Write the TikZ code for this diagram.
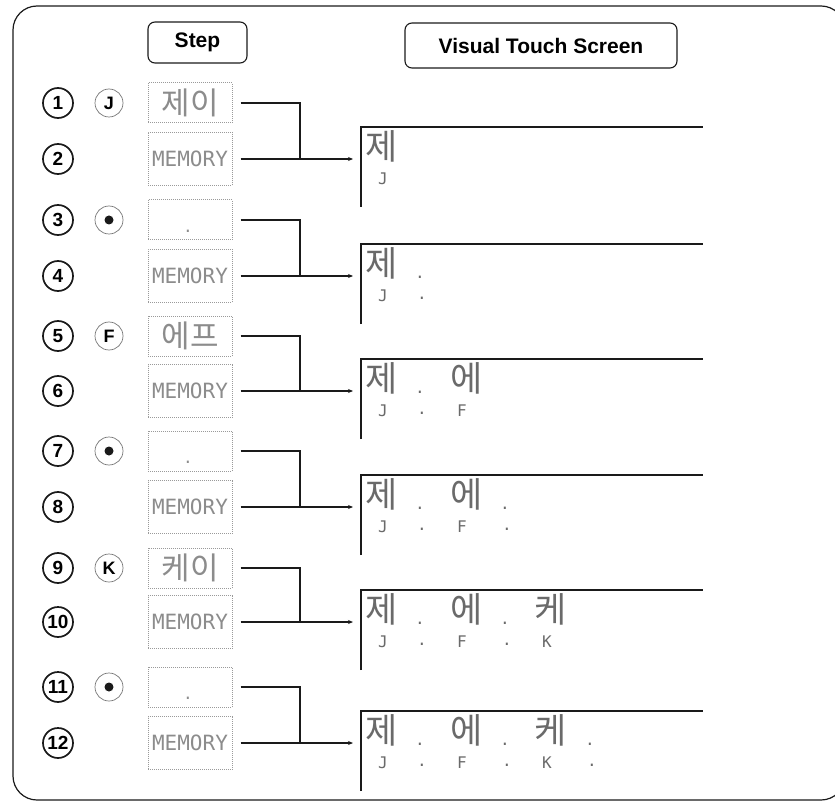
\documentclass[tikz,border=0pt]{standalone}
\usepackage{fontspec}
\setmainfont{Liberation Sans}
\newfontfamily\glyphfont{Noto Sans CJK KR}
\newfontfamily\lcdfont{DejaVu Sans Mono}
\usetikzlibrary{arrows.meta,positioning,calc}
\definecolor{ink}{HTML}{1A1A1A}
\definecolor{lcd}{HTML}{8C8C8C}
\definecolor{lcdbox}{HTML}{9A9A9A}

\begin{document}
\begin{tikzpicture}[
  x=1pt, y=-1pt,
  >={Stealth[length=5pt,width=4pt]},
  hdr/.style={draw=ink, rounded corners=7pt, line width=1.1pt, font=\bfseries\fontsize{21}{21}\selectfont},
  num/.style={circle, draw=ink, line width=1.7pt, minimum size=30pt, inner sep=0pt, font=\bfseries\fontsize{19}{19}\selectfont},
  key/.style={circle, draw=ink!60, line width=0.7pt, minimum size=28pt, inner sep=0pt, font=\bfseries\fontsize{18}{18}\selectfont},
  stepbox/.style={draw=lcdbox, densely dotted, line width=1pt, minimum width=84pt, minimum height=40pt, inner sep=0pt, text=lcd, font=\glyphfont\fontsize{31}{31}\selectfont},
  membox/.style={stepbox, minimum height=53pt, font=\lcdfont\fontsize{21}{21}\selectfont},
  link/.style={draw=ink, line width=1.4pt},
  scr/.style={draw=ink, line width=1.6pt},
  big/.style={font=\glyphfont\fontsize{35}{35}\selectfont, text=ink!65, inner sep=0pt},
  sml/.style={font=\lcdfont\fontsize{16}{16}\selectfont, text=ink!65, inner sep=0pt},
]
\useasboundingbox (0,0) rectangle (835,802);

% frame and headers
\draw[ink, line width=1.2pt, rounded corners=24pt] (13,6) rectangle (845,800);
\node[hdr, minimum width=99pt, minimum height=41pt] (stephdr) at (197.5,42.5) {Step};
\node[hdr, minimum width=272pt, minimum height=45pt] (vtshdr) at (541,45.5) {Visual Touch Screen};

% step numbers
\node[num] (n1) at (58,103) {1};
\node[num] (n2) at (58,159) {2};
\node[num] (n3) at (58,220) {3};
\node[num] (n4) at (58,276) {4};
\node[num] (n5) at (58,336) {5};
\node[num] (n6) at (58,391) {6};
\node[num] (n7) at (58,451) {7};
\node[num] (n8) at (58,507) {8};
\node[num] (n9) at (58,568) {9};
\node[num] (n10) at (58,622) {10};
\node[num] (n11) at (58,687) {11};
\node[num] (n12) at (58,743) {12};

% keys pressed
\node[key] (k1) at (109,103) {J};
\node[key] (k3) at (109,220) {};
\fill[ink] (k3) circle (4.5);
\node[key] (k5) at (109,336) {F};
\node[key] (k7) at (109,451) {};
\fill[ink] (k7) circle (4.5);
\node[key] (k9) at (109,568) {K};
\node[key] (k11) at (109,687) {};
\fill[ink] (k11) circle (4.5);

% key displays
\node[stepbox] (b1) at (190,103) {제이};
\node[membox] (b2) at (190,159) {MEMORY};
\node[stepbox] (b3) at (190,220) {};
\node[sml, text=lcd] (d3) at ($(b3.south)+(-2,-9)$) {.};
\node[membox] (b4) at (190,276) {MEMORY};
\node[stepbox] (b5) at (190,336) {에프};
\node[membox] (b6) at (190,391) {MEMORY};
\node[stepbox] (b7) at (190,451) {};
\node[sml, text=lcd] (d7) at ($(b7.south)+(-2,-9)$) {.};
\node[membox] (b8) at (190,507) {MEMORY};
\node[stepbox] (b9) at (190,568) {케이};
\node[membox] (b10) at (190,622) {MEMORY};
\node[stepbox] (b11) at (190,687) {};
\node[sml, text=lcd] (d11) at ($(b11.south)+(-2,-9)$) {.};
\node[membox] (b12) at (190,743) {MEMORY};

% joins
\coordinate (j1) at (300,159);
\coordinate (j2) at (300,276);
\coordinate (j3) at (300,391);
\coordinate (j4) at (300,507);
\coordinate (j5) at (300,622);
\coordinate (j6) at (300,743);
\coordinate (in1) at (353,159);
\coordinate (in2) at (353,276);
\coordinate (in3) at (353,391);
\coordinate (in4) at (353,507);
\coordinate (in5) at (353,622);
\coordinate (in6) at (353,743);
\draw[link, shorten <=8pt] (b1.east) -| (j1);
\draw[link, ->, shorten <=8pt] (b2.east) -- (in1);
\draw[link, shorten <=8pt] (b3.east) -| (j2);
\draw[link, ->, shorten <=8pt] (b4.east) -- (in2);
\draw[link, shorten <=8pt] (b5.east) -| (j3);
\draw[link, ->, shorten <=8pt] (b6.east) -- (in3);
\draw[link, shorten <=8pt] (b7.east) -| (j4);
\draw[link, ->, shorten <=8pt] (b8.east) -- (in4);
\draw[link, shorten <=8pt] (b9.east) -| (j5);
\draw[link, ->, shorten <=8pt] (b10.east) -- (in5);
\draw[link, shorten <=8pt] (b11.east) -| (j6);
\draw[link, ->, shorten <=8pt] (b12.east) -- (in6);

% screens
\coordinate (s1) at (361,127);
\coordinate (s2) at (361,244);
\coordinate (s3) at (361,359);
\coordinate (s4) at (361,475);
\coordinate (s5) at (361,590);
\coordinate (s6) at (361,711);
\draw[scr] ($(s1)+(0,80)$) -- (s1) -- ++(342,0);
\draw[scr] ($(s2)+(0,80)$) -- (s2) -- ++(342,0);
\draw[scr] ($(s3)+(0,80)$) -- (s3) -- ++(342,0);
\draw[scr] ($(s4)+(0,80)$) -- (s4) -- ++(342,0);
\draw[scr] ($(s5)+(0,80)$) -- (s5) -- ++(342,0);
\draw[scr] ($(s6)+(0,80)$) -- (s6) -- ++(342,0);

% screen 1
\node[big] (g1a) at ($(s1)+(21,19)$) {제};
\node[sml] (t1a) at ($(s1)+(22,52)$) {J};
% screen 2
\node[big] (g2a) at ($(s2)+(21,19)$) {제};
\node[sml] (p2a) at ($(s2)+(59,33)$) {.};
\node[sml] (t2a) at ($(s2)+(22,52)$) {J};
\node[sml] (q2a) at ($(s2)+(61,54)$) {.};
% screen 3
\node[big] (g3a) at ($(s3)+(21,19)$) {제};
\node[sml] (p3a) at ($(s3)+(59,33)$) {.};
\node[big] (g3b) at ($(s3)+(106,19)$) {에};
\node[sml] (t3a) at ($(s3)+(22,52)$) {J};
\node[sml] (q3a) at ($(s3)+(61,54)$) {.};
\node[sml] (t3b) at ($(s3)+(101,52)$) {F};
% screen 4
\node[big] (g4a) at ($(s4)+(21,19)$) {제};
\node[sml] (p4a) at ($(s4)+(59,33)$) {.};
\node[big] (g4b) at ($(s4)+(106,19)$) {에};
\node[sml] (p4b) at ($(s4)+(144,33)$) {.};
\node[sml] (t4a) at ($(s4)+(22,52)$) {J};
\node[sml] (q4a) at ($(s4)+(61,54)$) {.};
\node[sml] (t4b) at ($(s4)+(101,52)$) {F};
\node[sml] (q4b) at ($(s4)+(146,54)$) {.};
% screen 5
\node[big] (g5a) at ($(s5)+(21,19)$) {제};
\node[sml] (p5a) at ($(s5)+(59,33)$) {.};
\node[big] (g5b) at ($(s5)+(106,19)$) {에};
\node[sml] (p5b) at ($(s5)+(144,33)$) {.};
\node[big] (g5c) at ($(s5)+(190,19)$) {케};
\node[sml] (t5a) at ($(s5)+(22,52)$) {J};
\node[sml] (q5a) at ($(s5)+(61,54)$) {.};
\node[sml] (t5b) at ($(s5)+(101,52)$) {F};
\node[sml] (q5b) at ($(s5)+(146,54)$) {.};
\node[sml] (t5c) at ($(s5)+(186,52)$) {K};
% screen 6
\node[big] (g6a) at ($(s6)+(21,19)$) {제};
\node[sml] (p6a) at ($(s6)+(59,33)$) {.};
\node[big] (g6b) at ($(s6)+(106,19)$) {에};
\node[sml] (p6b) at ($(s6)+(144,33)$) {.};
\node[big] (g6c) at ($(s6)+(190,19)$) {케};
\node[sml] (p6c) at ($(s6)+(229,33)$) {.};
\node[sml] (t6a) at ($(s6)+(22,52)$) {J};
\node[sml] (q6a) at ($(s6)+(61,54)$) {.};
\node[sml] (t6b) at ($(s6)+(101,52)$) {F};
\node[sml] (q6b) at ($(s6)+(146,54)$) {.};
\node[sml] (t6c) at ($(s6)+(186,52)$) {K};
\node[sml] (q6c) at ($(s6)+(231,54)$) {.};
\end{tikzpicture}
\end{document}
